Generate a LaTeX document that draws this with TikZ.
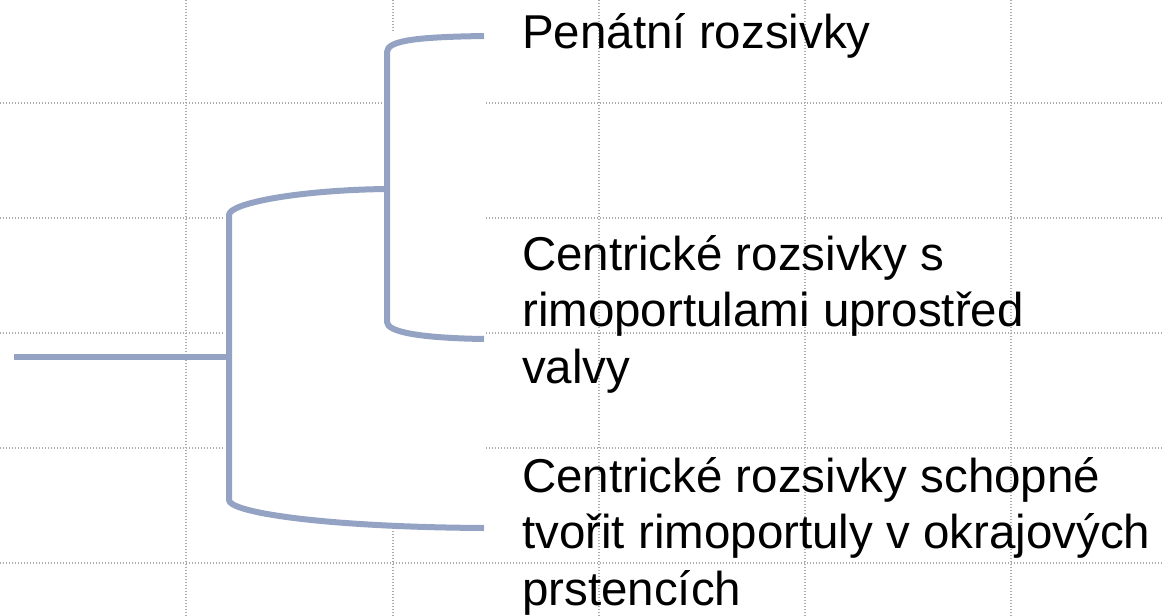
\documentclass[tikz,border=0pt]{standalone}
\usepackage{fontspec}
\setmainfont{Liberation Sans}
\definecolor{treeblue}{HTML}{94A3C4}
\begin{document}
\begin{tikzpicture}[x=1pt,y=-1pt,
  gridline/.style={draw=black!33, line width=1.3pt, dash pattern=on 1.3pt off 1.7pt},
  branch/.style={draw=treeblue, line width=6pt, line cap=butt, line join=round},
  leaf/.style={anchor=base west, inner sep=0pt, align=left, font=\fontsize{47.5}{56.5}\selectfont}]
\useasboundingbox (0,0) rectangle (1163,616);
% grid
\foreach \gx in {186,393,599,805,1011} \draw[gridline] (\gx,0) -- (\gx,616);
\foreach \gy in {103,218,333,448,563} \draw[gridline] (0,\gy) -- (1163,\gy);
% white backgrounds of the connectors
\fill[white] (384,33) rectangle (485,342);
\fill[white] (225,185) rectangle (485,531);
% tree
\coordinate (root) at (14,357);
\coordinate (n1) at (229,357);
\coordinate (n2) at (387,189);
\coordinate (e1) at (484,36);
\coordinate (e2) at (484,339);
\coordinate (e3) at (484,528);
\draw[branch] (root) -- (n1);
\draw[branch] (n2) .. controls (300,190) and (229,203) .. (229,215) -- (229,500) .. controls (229,512) and (320,527) .. (e3);
\draw[branch] (e1) .. controls (420,37) and (387,40) .. (387,52) -- (387,322) .. controls (387,332) and (420,338) .. (e2);
% labels (multi-line nodes: base anchor is the last line's baseline)
\node[leaf] (leaf1) at (522,48) {Penátní rozsivky};
\node[leaf] (leaf2) at (522,383) {Centrické rozsivky s\\rimoportulami uprostřed\\valvy};
\node[leaf] (leaf3) at (522,605) {Centrické rozsivky schopné\\tvořit rimoportuly v okrajových\\prstencích};
\end{tikzpicture}
\end{document}
